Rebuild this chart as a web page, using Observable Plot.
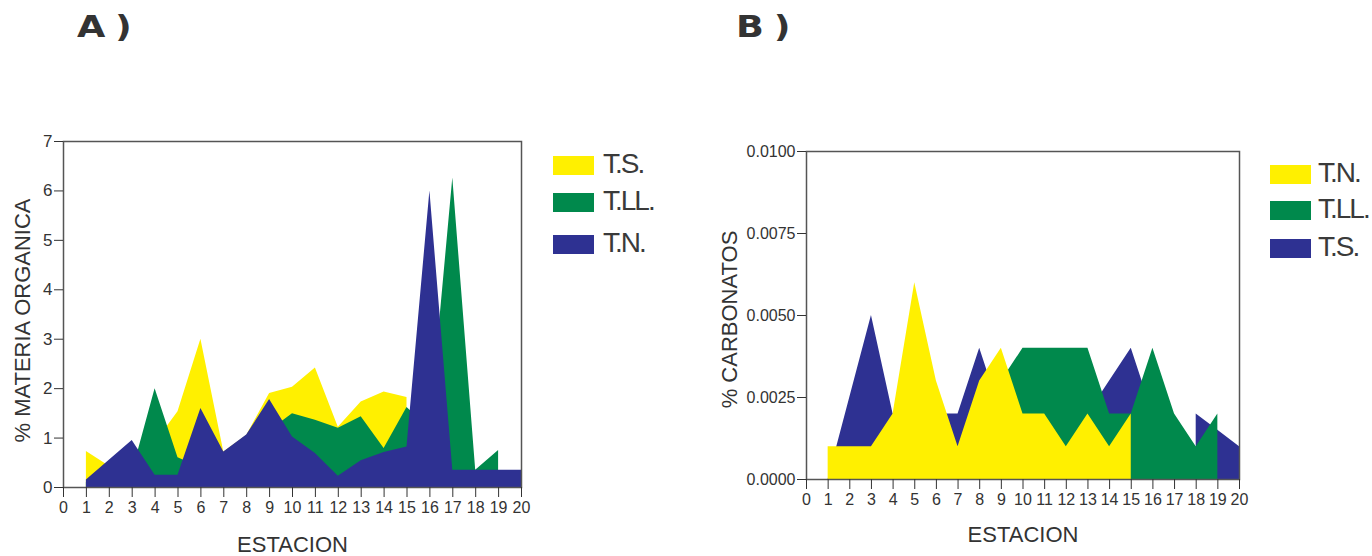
<!DOCTYPE html>
<html><head><meta charset="utf-8">
<script src="https://cdn.jsdelivr.net/npm/d3@7"></script>
<script src="https://cdn.jsdelivr.net/npm/@observablehq/plot@0.6"></script>
<style>
body{margin:0;background:#fff;}
#root{position:relative;width:1372px;height:556px;overflow:hidden;font-family:"Liberation Sans",Arial,sans-serif;color:#3a3a3a;}
.panel{position:absolute;top:0;}
.title{position:absolute;font-family:"DejaVu Sans";font-weight:bold;font-size:30px;line-height:30px;letter-spacing:8px;color:#333;transform:scaleX(1.22);transform-origin:left top;}
.sw{position:absolute;width:41px;height:19px;}
.lt{position:absolute;font-size:28px;line-height:28px;letter-spacing:-2px;color:#3a3a3a;}
</style></head>
<body><div id="root"></div>
<script>
// ---------- data ----------
const estaciones = [1,2,3,4,5,6,7,8,9,10,11,12,13,14,15,16,17,18,19,20];
const xTicks = [0,1,2,3,4,5,6,7,8,9,10,11,12,13,14,15,16,17,18,19,20];

// Panel A: % materia organica
const A_TS  = [0.73,0.43,0.6,0.9,1.53,3.0,0.72,1.05,1.9,2.03,2.42,1.22,1.73,1.93,1.82,null,null,null,null,null];
const A_TLL = [0.1,0.2,0.3,2.0,0.6,0.4,0.5,0.8,1.15,1.49,1.36,1.2,1.43,0.79,1.62,1.2,6.26,0.35,0.75,null];
const A_TN  = [0.15,0.55,0.95,0.25,0.25,1.6,0.72,1.06,1.78,1.02,0.69,0.23,0.54,0.71,0.82,6.0,0.35,0.35,0.35,0.35];
const yTicksA = [0,1,2,3,4,5,6,7];

// Panel B: % carbonatos
const B_TN  = [0.001,0.001,0.001,0.002,0.006,0.003,0.001,0.003,0.004,0.002,0.002,0.001,0.002,0.001,0.002,null,null,null,null,null];
const B_TLL = [null,null,null,null,null,null,null,null,0.003,0.004,0.004,0.004,0.004,0.002,0.002,0.004,0.002,0.001,0.002,null];
const B_TS  = [0,0.0025,0.005,0.002,0.002,0.002,0.002,0.004,0.002,0.003,0.003,0.003,0.002,0.003,0.004,0.002,null,0.002,0.0015,0.001];
const yTicksB = [0,0.0025,0.005,0.0075,0.01];

const amarillo = "#FFF000", verde = "#00894C", azul = "#2E3192";

const legendA = ["T.S.","T.LL.","T.N."];
const legendAColors = [amarillo, verde, azul];
const legendB = ["T.N.","T.LL.","T.S."];
const legendBColors = [amarillo, verde, azul];

const titles = ["A)","B)"];
const xTitle = "ESTACION";
const yTitleA = "% MATERIA ORGANICA";
const yTitleB = "% CARBONATOS";

// ---------- helpers ----------
const rows = arr => estaciones.map((e,i) => ({estacion:e, valor:arr[i]}));
const area = (arr, color) => Plot.areaY(rows(arr), {x:"estacion", y1:0, y2:"valor", fill:color});

const common = {
  width:686, height:556,
  style:{fontFamily:"Liberation Sans, Arial, sans-serif", fontSize:"16px", color:"#333", background:"transparent", overflow:"visible"}
};

const plotA = Plot.plot({
  ...common,
  marginLeft:63, marginRight:165, marginTop:141, marginBottom:69,
  x:{domain:[0,20]},
  y:{domain:[0,7]},
  marks:[
    area(A_TS, amarillo),
    area(A_TLL, verde),
    area(A_TN, azul),
    Plot.frame({stroke:"#555", strokeWidth:1.5}),
    Plot.axisX({ticks:xTicks, tickSize:10, tickPadding:4, label:null, fontSize:16}),
    Plot.axisY({ticks:yTicksA, tickSize:9, tickPadding:2, label:null, fontSize:17, tickFormat:d3.format("d")}),
    Plot.text([xTitle], {text:d=>d, frameAnchor:"bottom", dy:64, fontSize:22, fill:"#333"}),
    Plot.text([yTitleA], {text:d=>d, frameAnchor:"left", textAnchor:"middle", dx:-41, dy:6, rotate:-90, fontSize:22, fill:"#333"})
  ]
});

const plotB = Plot.plot({
  ...common,
  marginLeft:120, marginRight:133, marginTop:151, marginBottom:77,
  x:{domain:[0,20]},
  y:{domain:[0,0.01]},
  marks:[
    area(B_TS, azul),
    area(B_TLL, verde),
    area(B_TN, amarillo),
    Plot.frame({stroke:"#555", strokeWidth:1.5}),
    Plot.axisX({ticks:xTicks, tickSize:10, tickPadding:4, label:null, fontSize:16}),
    Plot.axisY({ticks:yTicksB, tickSize:9, tickPadding:2, label:null, fontSize:16, tickFormat:d3.format(".4f")}),
    Plot.text([xTitle], {text:d=>d, frameAnchor:"bottom", dy:62, fontSize:22, fill:"#333"}),
    Plot.text([yTitleB], {text:d=>d, frameAnchor:"left", textAnchor:"middle", dx:-77, dy:4, rotate:-90, fontSize:22, fill:"#333"})
  ]
});

const root = document.getElementById("root");
plotA.classList.add("panel"); plotA.style.left = "0px";
plotB.classList.add("panel"); plotB.style.left = "686px";
root.appendChild(plotA);
root.appendChild(plotB);

// titles
const titlePos = [[77,12],[736,12]];
titles.forEach((t,i) => {
  const d = document.createElement("div");
  d.className = "title"; d.textContent = t;
  d.style.left = titlePos[i][0]+"px"; d.style.top = titlePos[i][1]+"px";
  root.appendChild(d);
});

// legends
function legend(labels, colors, swX, swTops, txtX) {
  labels.forEach((lab,i) => {
    const s = document.createElement("div");
    s.className = "sw"; s.style.background = colors[i];
    s.style.left = swX+"px"; s.style.top = swTops[i]+"px";
    root.appendChild(s);
    const t = document.createElement("div");
    t.className = "lt"; t.textContent = lab;
    t.style.left = txtX+"px"; t.style.top = (swTops[i]-6)+"px";
    root.appendChild(t);
  });
}
legend(legendA, legendAColors, 553, [156,193,235], 603);
legend(legendB, legendBColors, 1270, [165,201,239], 1318);
</script>
</body></html>
